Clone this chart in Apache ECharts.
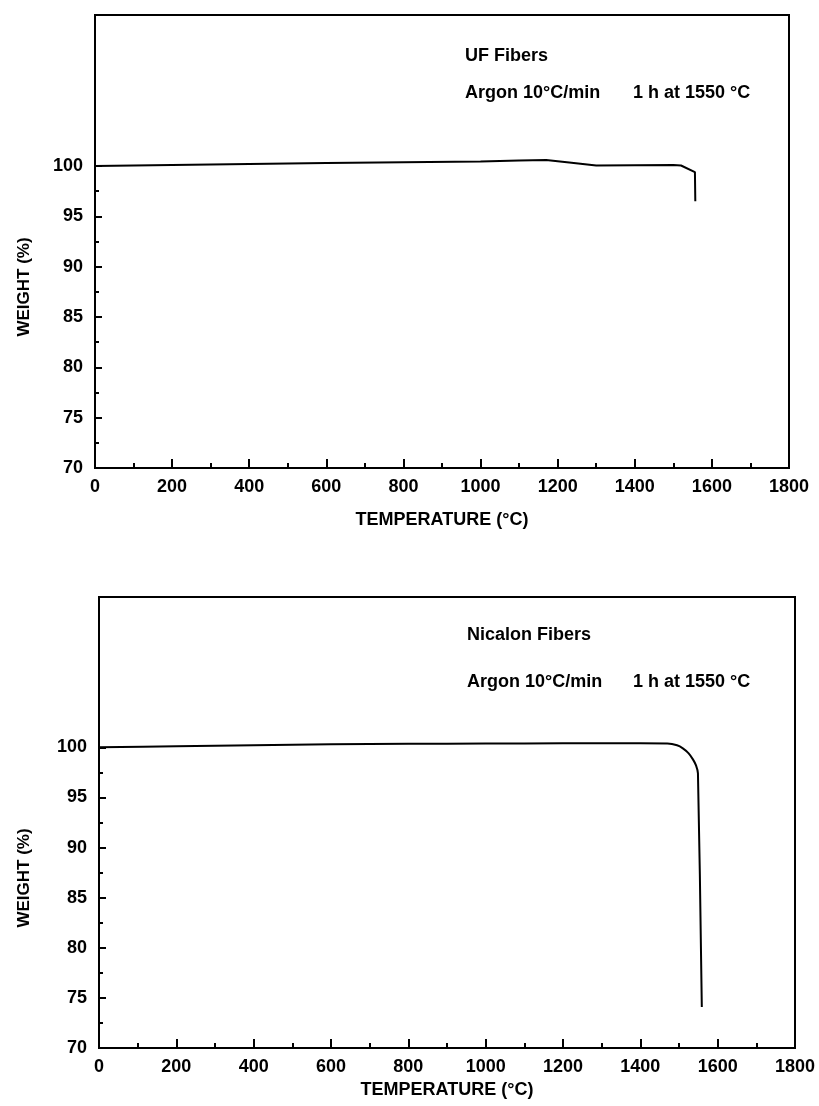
<!DOCTYPE html>
<html>
<head>
<meta charset="utf-8">
<title>TGA of UF and Nicalon fibers</title>
<script src="https://cdn.jsdelivr.net/npm/echarts@6/dist/echarts.min.js"></script>
<style>
  html, body { margin: 0; padding: 0; background: #fff; }
  #chart { width: 819px; height: 1106px; }
</style>
</head>
<body>
<div id="chart"></div>
<script>
// ---- Data ----
const ufTemp   = [0, 200, 400, 600, 800, 1000, 1100, 1170, 1230, 1300, 1400, 1500, 1520, 1556, 1557];
const ufWeight = [100.0, 100.1, 100.2, 100.3, 100.37, 100.45, 100.55, 100.6, 100.35, 100.05, 100.08, 100.1, 100.05, 99.4, 96.5];

const nicTemp   = [0, 200, 400, 600, 800, 1000, 1200, 1400, 1470, 1495, 1510, 1525, 1536, 1544, 1549, 1559];
const nicWeight = [100.0, 100.1, 100.2, 100.3, 100.35, 100.38, 100.4, 100.4, 100.38, 100.2, 99.9, 99.4, 98.8, 98.2, 97.4, 74.1];

const yMajorTicks = [70, 75, 80, 85, 90, 95, 100];
const yMinorTicks = [72.5, 77.5, 82.5, 87.5, 92.5, 97.5];

const topTitle    = 'UF Fibers';
const bottomTitle = 'Nicalon Fibers';
const condLeft    = 'Argon 10°C/min';
const condRight   = '1 h at 1550 °C';
const xName       = 'TEMPERATURE (°C)';
const yName       = 'WEIGHT (%)';

// ---- Styling ----
const FONT = '"Liberation Sans", Arial, Helvetica, sans-serif';
const BLACK = '#000';

function pairs(xs, ys) { return xs.map((x, i) => [x, ys[i]]); }

function makeXAxis(gridIndex, nameGap) {
  return {
    type: 'value', gridIndex: gridIndex, min: 0, max: 1800, interval: 200,
    name: xName, nameLocation: 'middle', nameGap: nameGap,
    nameTextStyle: { color: BLACK, fontFamily: FONT, fontWeight: 'bold', fontSize: 18 },
    axisLine: { show: true, onZero: false, lineStyle: { color: BLACK, width: 2 } },
    axisTick: { show: true, inside: true, length: 9, lineStyle: { color: BLACK, width: 2 } },
    minorTick: { show: true, splitNumber: 2, length: 5, lineStyle: { color: BLACK, width: 2 } },
    axisLabel: { color: BLACK, fontFamily: FONT, fontWeight: 'bold', fontSize: 18, margin: 10,
                 formatter: v => String(v) },
    splitLine: { show: false }, minorSplitLine: { show: false }
  };
}

function makeYAxes(gridIndex) {
  return [
    {
      type: 'value', gridIndex: gridIndex, position: 'left', min: 70, max: 115, interval: 5,
      axisLine: { show: true, onZero: false, lineStyle: { color: BLACK, width: 2 } },
      axisTick: { show: true, inside: true, length: 7, customValues: yMajorTicks, lineStyle: { color: BLACK, width: 2 } },
      axisLabel: { show: true, customValues: yMajorTicks, color: BLACK, fontFamily: FONT, fontWeight: 'bold', fontSize: 18, margin: 12,
                   formatter: v => String(v) },
      splitLine: { show: false }
    },
    {
      type: 'value', gridIndex: gridIndex, position: 'left', min: 70, max: 115, interval: 5,
      axisLine: { show: false },
      axisTick: { show: true, inside: true, length: 4, customValues: yMinorTicks, lineStyle: { color: BLACK, width: 2 } },
      axisLabel: { show: false },
      splitLine: { show: false }
    }
  ];
}

function txt(left, top, text, rotation, size) {
  return {
    type: 'text', x: left, y: top, rotation: rotation || 0,
    style: {
      text: text, fill: BLACK, font: 'bold ' + (size || 18) + 'px ' + FONT,
      textAlign: rotation ? 'center' : 'left', textVerticalAlign: 'middle'
    }
  };
}

const chart = echarts.init(document.getElementById('chart'), null, { renderer: 'canvas' });

chart.setOption({
  backgroundColor: '#fff',
  animation: false,
  grid: [
    { left: 95, right: 30, top: 15, bottom: 638, show: true, borderColor: BLACK, borderWidth: 2, backgroundColor: 'transparent' },
    { left: 99, right: 24, top: 597, bottom: 58, show: true, borderColor: BLACK, borderWidth: 2, backgroundColor: 'transparent' }
  ],
  xAxis: [makeXAxis(0, 43), makeXAxis(1, 33)],
  yAxis: makeYAxes(0).concat(makeYAxes(1)),
  series: [
    {
      type: 'line', name: topTitle, xAxisIndex: 0, yAxisIndex: 0,
      data: pairs(ufTemp, ufWeight), showSymbol: false, symbol: 'none',
      lineStyle: { color: BLACK, width: 2 }
    },
    {
      type: 'line', name: bottomTitle, xAxisIndex: 1, yAxisIndex: 2,
      data: pairs(nicTemp, nicWeight), showSymbol: false, symbol: 'none', smooth: 0.3,
      lineStyle: { color: BLACK, width: 2 }
    }
  ],
  graphic: [
    txt(465, 56, topTitle),
    txt(465, 93, condLeft),
    txt(633, 93, condRight),
    txt(467, 635, bottomTitle),
    txt(467, 682, condLeft),
    txt(633, 682, condRight),
    txt(24, 287, yName, Math.PI / 2, 17),
    txt(24, 878, yName, Math.PI / 2, 17)
  ]
});
</script>
</body>
</html>
